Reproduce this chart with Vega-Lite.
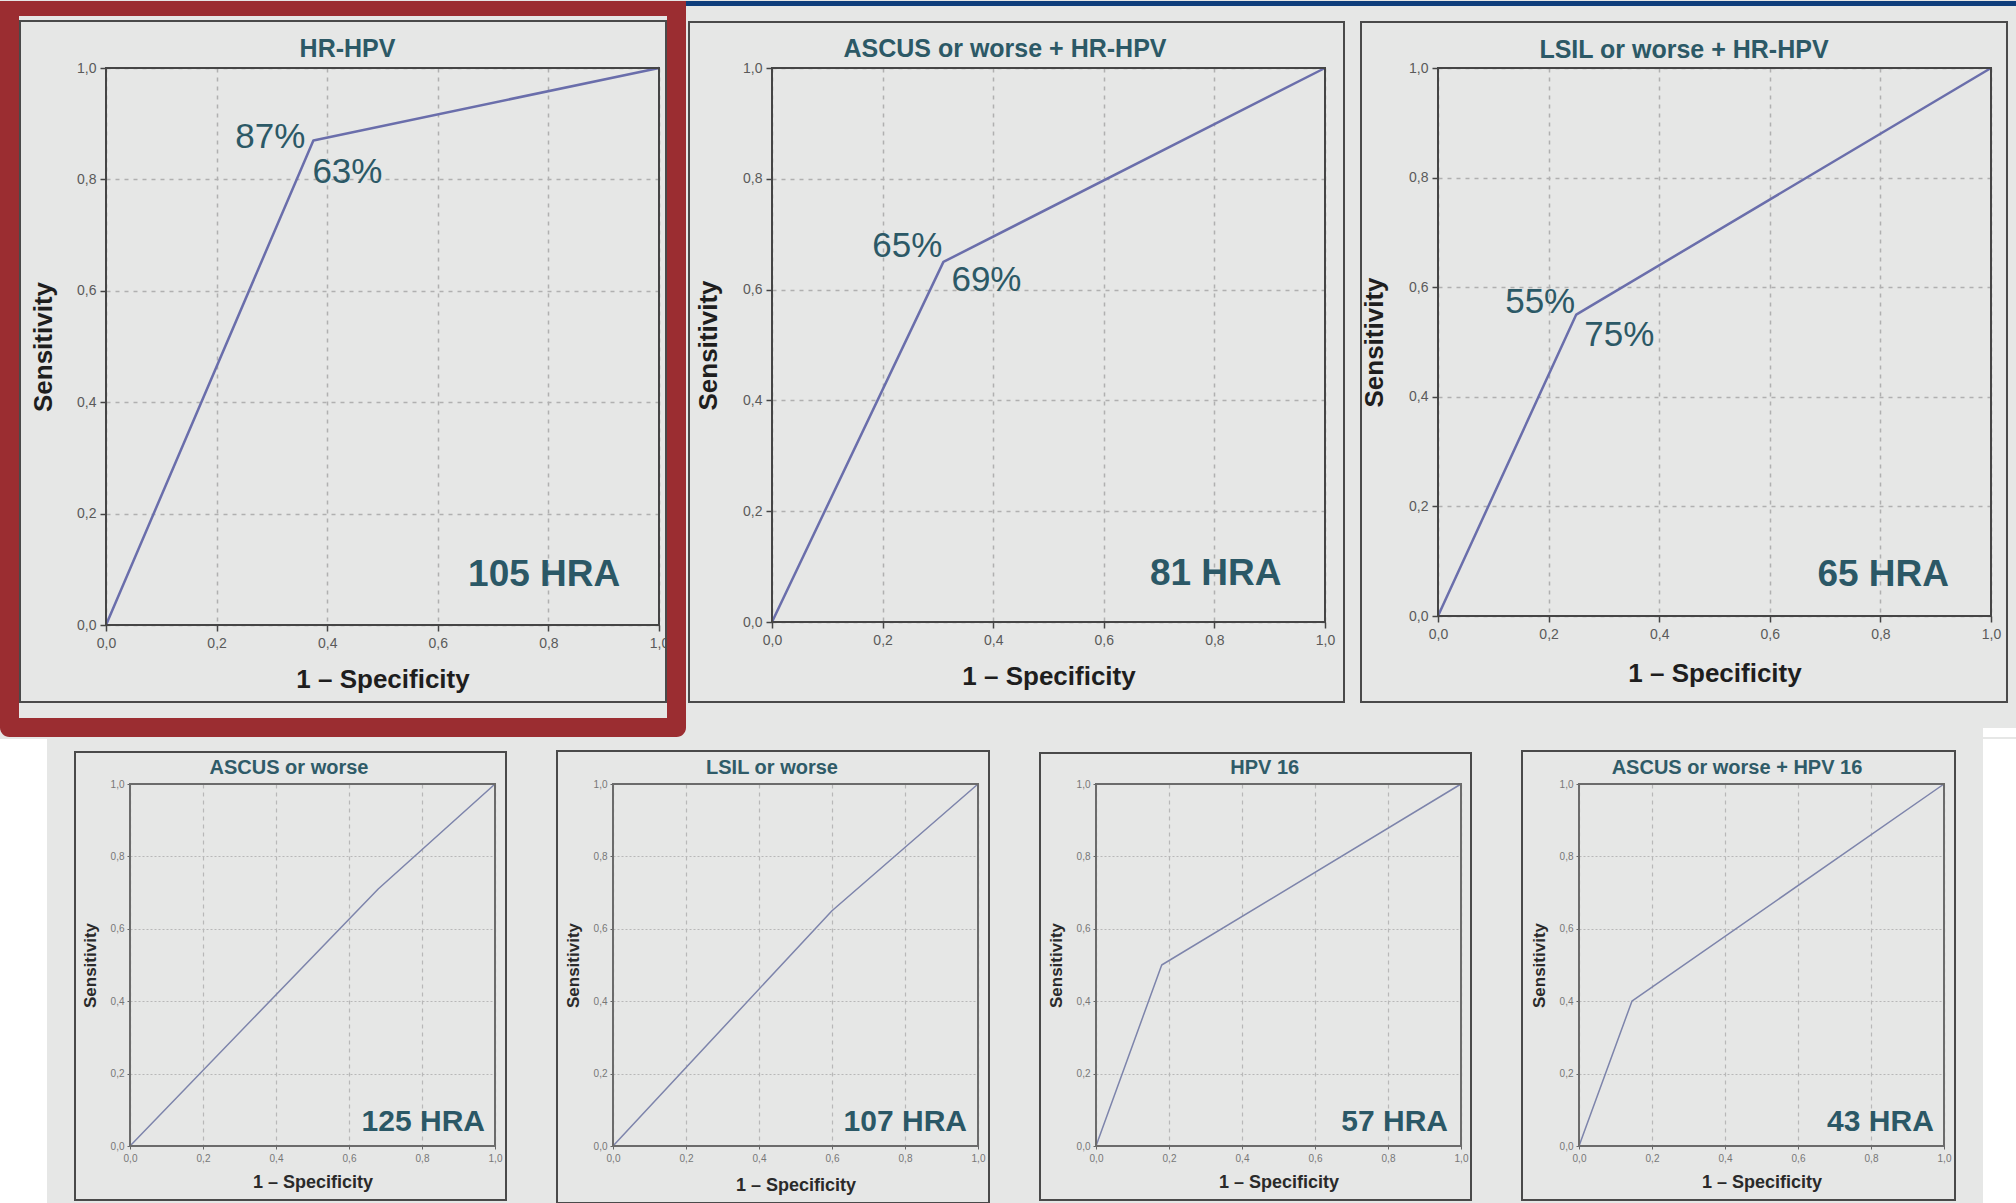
{
"$schema":"https://vega.github.io/schema/vega-lite/v6.json",
"background":"#e6e7e6",
"padding":0,
"autosize":{"type":"pad"},
"spacing":0,
"config":{"font":"Liberation Sans","text":{"font":"Liberation Sans"}},
"vconcat":[
{"hconcat":[
{"width":553,"height":557,"view":{"stroke":null},
"layer":[
{"data":{"values":[{}]},"mark":{"type":"rect","color":"#9b2d31"},"encoding":{"x":{"datum":-0.19168,"type":"quantitative","scale":{"domain":[0,1],"nice":false,"zero":false}},"x2":{"datum":1.04882},"y":{"datum":1.12029,"type":"quantitative","scale":{"domain":[0,1],"nice":false,"zero":false}},"y2":{"datum":1.09336}}},
{"data":{"values":[{}]},"mark":{"type":"rect","color":"#9b2d31"},"encoding":{"x":{"datum":-0.19168,"type":"quantitative","scale":{"domain":[0,1],"nice":false,"zero":false}},"x2":{"datum":-0.15732},"y":{"datum":1.12029,"type":"quantitative","scale":{"domain":[0,1],"nice":false,"zero":false}},"y2":{"datum":-0.18312}}},
{"data":{"values":[{}]},"mark":{"type":"rect","color":"#9b2d31"},"encoding":{"x":{"datum":1.01447,"type":"quantitative","scale":{"domain":[0,1],"nice":false,"zero":false}},"x2":{"datum":1.04882},"y":{"datum":1.12029,"type":"quantitative","scale":{"domain":[0,1],"nice":false,"zero":false}},"y2":{"datum":-0.18312}}},
{"data":{"values":[{}]},"mark":{"type":"rect","color":"#9b2d31","cornerRadiusBottomLeft":10,"cornerRadiusBottomRight":10},"encoding":{"x":{"datum":-0.19168,"type":"quantitative","scale":{"domain":[0,1],"nice":false,"zero":false}},"x2":{"datum":1.04882},"y":{"datum":-0.16697,"type":"quantitative","scale":{"domain":[0,1],"nice":false,"zero":false}},"y2":{"datum":-0.20108}}},
{"data":{"values":[{}]},"mark":{"type":"rect","filled":false,"stroke":"#4a4a4a","strokeWidth":2},"encoding":{"x":{"datum":-0.15552,"type":"quantitative","scale":{"domain":[0,1],"nice":false,"zero":false}},"x2":{"datum":1.01266},"y":{"datum":1.08438,"type":"quantitative","scale":{"domain":[0,1],"nice":false,"zero":false}},"y2":{"datum":-0.13824}}},
{"data":{"values":[{"fpr":0,"tpr":0},{"fpr":0.375,"tpr":0.87},{"fpr":1,"tpr":1}]},"mark":{"type":"line","color":"#6a6eab","strokeWidth":2.5,"strokeJoin":"round"},
"encoding":{"x":{"field":"fpr","type":"quantitative","scale":{"domain":[0,1],"nice":false,"zero":false},"axis":{"values":[0,0.2,0.4,0.6,0.8,1],"labelExpr":"replace(format(datum.value,'.1f'),'.',',')","title":"1 – Specificity","titleFontSize":26,"titleFontWeight":"bold","titleColor":"#1e1e1e","titleX":276.5,"titleY":62,"titleBaseline":"alphabetic","titleAlign":"center","titleAngle":0,"labelFontSize":14,"labelColor":"#5a5a5a","labelPadding":5,"labelFlush":false,"labelOverlap":false,"tickSize":6,"tickColor":"#454545","tickWidth":1.5,"domain":false,"grid":true,"gridColor":"#b0b0b0","gridDash":[4,5],"gridWidth":1.5}},
"y":{"field":"tpr","type":"quantitative","scale":{"domain":[0,1],"nice":false,"zero":false},"axis":{"values":[0,0.2,0.4,0.6,0.8,1],"labelExpr":"replace(format(datum.value,'.1f'),'.',',')","title":"Sensitivity","titleFontSize":26,"titleFontWeight":"bold","titleColor":"#1e1e1e","titleX":-55,"titleY":278.5,"titleBaseline":"alphabetic","titleAlign":"center","titleAngle":270,"labelFontSize":14,"labelColor":"#5a5a5a","labelPadding":4,"labelFlush":false,"labelOverlap":false,"tickSize":6,"tickColor":"#454545","tickWidth":1.5,"domain":false,"grid":true,"gridColor":"#b0b0b0","gridDash":[4,5],"gridWidth":1.5}}}},
{"data":{"values":[{}]},"mark":{"type":"rect","filled":false,"stroke":"#454545","strokeWidth":2},"encoding":{"x":{"datum":0,"type":"quantitative","scale":{"domain":[0,1],"nice":false,"zero":false}},"x2":{"datum":1},"y":{"datum":0,"type":"quantitative","scale":{"domain":[0,1],"nice":false,"zero":false}},"y2":{"datum":1}}},
{"data":{"values":[{"fpr":0.375,"tpr":0.87,"sens":"87%","spec":"63%"}]},"layer":[
{"mark":{"type":"text","align":"right","baseline":"alphabetic","dx":-8,"dy":8,"fontSize":35,"color":"#2c5966"},"encoding":{"x":{"field":"fpr","type":"quantitative","scale":{"domain":[0,1],"nice":false,"zero":false}},"y":{"field":"tpr","type":"quantitative","scale":{"domain":[0,1],"nice":false,"zero":false}},"text":{"field":"sens"}}},
{"mark":{"type":"text","align":"left","baseline":"alphabetic","dx":-1,"dy":43,"fontSize":35,"color":"#2c5966"},"encoding":{"x":{"field":"fpr","type":"quantitative","scale":{"domain":[0,1],"nice":false,"zero":false}},"y":{"field":"tpr","type":"quantitative","scale":{"domain":[0,1],"nice":false,"zero":false}},"text":{"field":"spec"}}}]},
{"data":{"values":[{"t":"HR-HPV"}]},"mark":{"type":"text","align":"center","baseline":"alphabetic","fontSize":25,"fontWeight":"bold","color":"#2c5966"},"encoding":{"x":{"datum":0.43671,"type":"quantitative","scale":{"domain":[0,1],"nice":false,"zero":false}},"y":{"datum":1.01975,"type":"quantitative","scale":{"domain":[0,1],"nice":false,"zero":false}},"text":{"field":"t"}}},
{"data":{"values":[{"n":"105 HRA"}]},"mark":{"type":"text","align":"right","baseline":"alphabetic","fontSize":37,"fontWeight":"bold","color":"#2b5866"},"encoding":{"x":{"datum":0.93,"type":"quantitative","scale":{"domain":[0,1],"nice":false,"zero":false}},"y":{"datum":0.07,"type":"quantitative","scale":{"domain":[0,1],"nice":false,"zero":false}},"text":{"field":"n"}}}
]},
{"width":553,"height":554,"view":{"stroke":null},
"layer":[
{"data":{"values":[{}]},"mark":{"type":"rect","filled":false,"stroke":"#4a4a4a","strokeWidth":2},"encoding":{"x":{"datum":-0.15009,"type":"quantitative","scale":{"domain":[0,1],"nice":false,"zero":false}},"x2":{"datum":1.03436},"y":{"datum":1.08303,"type":"quantitative","scale":{"domain":[0,1],"nice":false,"zero":false}},"y2":{"datum":-0.1444}}},
{"data":{"values":[{"fpr":0,"tpr":0},{"fpr":0.31,"tpr":0.65},{"fpr":1,"tpr":1}]},"mark":{"type":"line","color":"#6a6eab","strokeWidth":2.5,"strokeJoin":"round"},
"encoding":{"x":{"field":"fpr","type":"quantitative","scale":{"domain":[0,1],"nice":false,"zero":false},"axis":{"values":[0,0.2,0.4,0.6,0.8,1],"labelExpr":"replace(format(datum.value,'.1f'),'.',',')","title":"1 – Specificity","titleFontSize":26,"titleFontWeight":"bold","titleColor":"#1e1e1e","titleX":276.5,"titleY":62,"titleBaseline":"alphabetic","titleAlign":"center","titleAngle":0,"labelFontSize":14,"labelColor":"#5a5a5a","labelPadding":5,"labelFlush":false,"labelOverlap":false,"tickSize":6,"tickColor":"#454545","tickWidth":1.5,"domain":false,"grid":true,"gridColor":"#b0b0b0","gridDash":[4,5],"gridWidth":1.5}},
"y":{"field":"tpr","type":"quantitative","scale":{"domain":[0,1],"nice":false,"zero":false},"axis":{"values":[0,0.2,0.4,0.6,0.8,1],"labelExpr":"replace(format(datum.value,'.1f'),'.',',')","title":"Sensitivity","titleFontSize":26,"titleFontWeight":"bold","titleColor":"#1e1e1e","titleX":-56,"titleY":277,"titleBaseline":"alphabetic","titleAlign":"center","titleAngle":270,"labelFontSize":14,"labelColor":"#5a5a5a","labelPadding":4,"labelFlush":false,"labelOverlap":false,"tickSize":6,"tickColor":"#454545","tickWidth":1.5,"domain":false,"grid":true,"gridColor":"#b0b0b0","gridDash":[4,5],"gridWidth":1.5}}}},
{"data":{"values":[{}]},"mark":{"type":"rect","filled":false,"stroke":"#454545","strokeWidth":2},"encoding":{"x":{"datum":0,"type":"quantitative","scale":{"domain":[0,1],"nice":false,"zero":false}},"x2":{"datum":1},"y":{"datum":0,"type":"quantitative","scale":{"domain":[0,1],"nice":false,"zero":false}},"y2":{"datum":1}}},
{"data":{"values":[{"fpr":0.31,"tpr":0.65,"sens":"65%","spec":"69%"}]},"layer":[
{"mark":{"type":"text","align":"right","baseline":"alphabetic","dx":-1,"dy":-5,"fontSize":35,"color":"#2c5966"},"encoding":{"x":{"field":"fpr","type":"quantitative","scale":{"domain":[0,1],"nice":false,"zero":false}},"y":{"field":"tpr","type":"quantitative","scale":{"domain":[0,1],"nice":false,"zero":false}},"text":{"field":"sens"}}},
{"mark":{"type":"text","align":"left","baseline":"alphabetic","dx":8,"dy":29,"fontSize":35,"color":"#2c5966"},"encoding":{"x":{"field":"fpr","type":"quantitative","scale":{"domain":[0,1],"nice":false,"zero":false}},"y":{"field":"tpr","type":"quantitative","scale":{"domain":[0,1],"nice":false,"zero":false}},"text":{"field":"spec"}}}]},
{"data":{"values":[{"t":"ASCUS or worse + HR-HPV"}]},"mark":{"type":"text","align":"center","baseline":"alphabetic","fontSize":25,"fontWeight":"bold","color":"#2c5966"},"encoding":{"x":{"datum":0.42134,"type":"quantitative","scale":{"domain":[0,1],"nice":false,"zero":false}},"y":{"datum":1.01986,"type":"quantitative","scale":{"domain":[0,1],"nice":false,"zero":false}},"text":{"field":"t"}}},
{"data":{"values":[{"n":"81 HRA"}]},"mark":{"type":"text","align":"right","baseline":"alphabetic","fontSize":37,"fontWeight":"bold","color":"#2b5866"},"encoding":{"x":{"datum":0.92134,"type":"quantitative","scale":{"domain":[0,1],"nice":false,"zero":false}},"y":{"datum":0.066,"type":"quantitative","scale":{"domain":[0,1],"nice":false,"zero":false}},"text":{"field":"n"}}}
]},
{"width":553,"height":548,"view":{"stroke":null},
"layer":[
{"data":{"values":[{}]},"mark":{"type":"rect","color":"#0f3e7c"},"encoding":{"x":{"datum":-1.35986,"type":"quantitative","scale":{"domain":[0,1],"nice":false,"zero":false}},"x2":{"datum":1.04521},"y":{"datum":1.12226,"type":"quantitative","scale":{"domain":[0,1],"nice":false,"zero":false}},"y2":{"datum":1.11314}}},
{"data":{"values":[{}]},"mark":{"type":"rect","color":"#ffffff"},"encoding":{"x":{"datum":0.98553,"type":"quantitative","scale":{"domain":[0,1],"nice":false,"zero":false}},"x2":{"datum":1.04521},"y":{"datum":-0.20438,"type":"quantitative","scale":{"domain":[0,1],"nice":false,"zero":false}},"y2":{"datum":-0.2208}}},
{"data":{"values":[{}]},"mark":{"type":"rect","filled":false,"stroke":"#4a4a4a","strokeWidth":2},"encoding":{"x":{"datum":-0.13924,"type":"quantitative","scale":{"domain":[0,1],"nice":false,"zero":false}},"x2":{"datum":1.02893},"y":{"datum":1.08394,"type":"quantitative","scale":{"domain":[0,1],"nice":false,"zero":false}},"y2":{"datum":-0.15693}}},
{"data":{"values":[{"fpr":0,"tpr":0},{"fpr":0.25,"tpr":0.55},{"fpr":1,"tpr":1}]},"mark":{"type":"line","color":"#6a6eab","strokeWidth":2.5,"strokeJoin":"round"},
"encoding":{"x":{"field":"fpr","type":"quantitative","scale":{"domain":[0,1],"nice":false,"zero":false},"axis":{"values":[0,0.2,0.4,0.6,0.8,1],"labelExpr":"replace(format(datum.value,'.1f'),'.',',')","title":"1 – Specificity","titleFontSize":26,"titleFontWeight":"bold","titleColor":"#1e1e1e","titleX":276.5,"titleY":65,"titleBaseline":"alphabetic","titleAlign":"center","titleAngle":0,"labelFontSize":14,"labelColor":"#5a5a5a","labelPadding":5,"labelFlush":false,"labelOverlap":false,"tickSize":6,"tickColor":"#454545","tickWidth":1.5,"domain":false,"grid":true,"gridColor":"#b0b0b0","gridDash":[4,5],"gridWidth":1.5}},
"y":{"field":"tpr","type":"quantitative","scale":{"domain":[0,1],"nice":false,"zero":false},"axis":{"values":[0,0.2,0.4,0.6,0.8,1],"labelExpr":"replace(format(datum.value,'.1f'),'.',',')","title":"Sensitivity","titleFontSize":26,"titleFontWeight":"bold","titleColor":"#1e1e1e","titleX":-56,"titleY":274,"titleBaseline":"alphabetic","titleAlign":"center","titleAngle":270,"labelFontSize":14,"labelColor":"#5a5a5a","labelPadding":4,"labelFlush":false,"labelOverlap":false,"tickSize":6,"tickColor":"#454545","tickWidth":1.5,"domain":false,"grid":true,"gridColor":"#b0b0b0","gridDash":[4,5],"gridWidth":1.5}}}},
{"data":{"values":[{}]},"mark":{"type":"rect","filled":false,"stroke":"#454545","strokeWidth":2},"encoding":{"x":{"datum":0,"type":"quantitative","scale":{"domain":[0,1],"nice":false,"zero":false}},"x2":{"datum":1},"y":{"datum":0,"type":"quantitative","scale":{"domain":[0,1],"nice":false,"zero":false}},"y2":{"datum":1}}},
{"data":{"values":[{"fpr":0.25,"tpr":0.55,"sens":"55%","spec":"75%"}]},"layer":[
{"mark":{"type":"text","align":"right","baseline":"alphabetic","dx":-1,"dy":-2,"fontSize":35,"color":"#2c5966"},"encoding":{"x":{"field":"fpr","type":"quantitative","scale":{"domain":[0,1],"nice":false,"zero":false}},"y":{"field":"tpr","type":"quantitative","scale":{"domain":[0,1],"nice":false,"zero":false}},"text":{"field":"sens"}}},
{"mark":{"type":"text","align":"left","baseline":"alphabetic","dx":8,"dy":31,"fontSize":35,"color":"#2c5966"},"encoding":{"x":{"field":"fpr","type":"quantitative","scale":{"domain":[0,1],"nice":false,"zero":false}},"y":{"field":"tpr","type":"quantitative","scale":{"domain":[0,1],"nice":false,"zero":false}},"text":{"field":"spec"}}}]},
{"data":{"values":[{"t":"LSIL or worse + HR-HPV"}]},"mark":{"type":"text","align":"center","baseline":"alphabetic","fontSize":25,"fontWeight":"bold","color":"#2c5966"},"encoding":{"x":{"datum":0.44485,"type":"quantitative","scale":{"domain":[0,1],"nice":false,"zero":false}},"y":{"datum":1.01752,"type":"quantitative","scale":{"domain":[0,1],"nice":false,"zero":false}},"text":{"field":"t"}}},
{"data":{"values":[{"n":"65 HRA"}]},"mark":{"type":"text","align":"right","baseline":"alphabetic","fontSize":37,"fontWeight":"bold","color":"#2b5866"},"encoding":{"x":{"datum":0.92405,"type":"quantitative","scale":{"domain":[0,1],"nice":false,"zero":false}},"y":{"datum":0.0547,"type":"quantitative","scale":{"domain":[0,1],"nice":false,"zero":false}},"text":{"field":"n"}}}
]}
],"spacing":113,"bounds":"flush"},
{"hconcat":[
{"width":4,"height":362,"view":{"stroke":null},"data":{"values":[{}]},"mark":{"type":"rect","color":"#ffffff"},"encoding":{"x":{"datum":-26.5,"type":"quantitative","scale":{"domain":[0,1],"nice":false,"zero":false},"axis":null},"x2":{"datum":-14.75},"y":{"datum":1.12431,"type":"quantitative","scale":{"domain":[0,1],"nice":false,"zero":false},"axis":null},"y2":{"datum":-0.16575}}},
{"hconcat":[
{"width":365,"height":362,"view":{"stroke":null},
"layer":[
{"data":{"values":[{}]},"mark":{"type":"rect","filled":false,"stroke":"#4a4a4a","strokeWidth":2},"encoding":{"x":{"datum":-0.15068,"type":"quantitative","scale":{"domain":[0,1],"nice":false,"zero":false}},"x2":{"datum":1.03014},"y":{"datum":1.0884,"type":"quantitative","scale":{"domain":[0,1],"nice":false,"zero":false}},"y2":{"datum":-0.14917}}},
{"data":{"values":[{"fpr":0,"tpr":0},{"fpr":0.68,"tpr":0.71},{"fpr":1,"tpr":1}]},"mark":{"type":"line","color":"#7d84ab","strokeWidth":1.5,"strokeJoin":"round"},
"encoding":{"x":{"field":"fpr","type":"quantitative","scale":{"domain":[0,1],"nice":false,"zero":false},"axis":{"values":[0,0.2,0.4,0.6,0.8,1],"labelExpr":"replace(format(datum.value,'.1f'),'.',',')","title":"1 – Specificity","titleFontSize":18,"titleFontWeight":"bold","titleColor":"#2a2a2a","titleX":182.5,"titleY":41,"titleBaseline":"alphabetic","titleAlign":"center","titleAngle":0,"labelFontSize":10,"labelColor":"#777777","labelPadding":4,"labelFlush":false,"labelOverlap":false,"tickSize":3,"tickColor":"#666666","tickWidth":1,"domain":false,"grid":true,"gridColor":"#b8b8b8","gridDash":[4,4],"gridWidth":1.2}},
"y":{"field":"tpr","type":"quantitative","scale":{"domain":[0,1],"nice":false,"zero":false},"axis":{"values":[0,0.2,0.4,0.6,0.8,1],"labelExpr":"replace(format(datum.value,'.1f'),'.',',')","title":"Sensitivity","titleFontSize":17,"titleFontWeight":"bold","titleColor":"#2a2a2a","titleX":-35,"titleY":181,"titleBaseline":"alphabetic","titleAlign":"center","titleAngle":270,"labelFontSize":10,"labelColor":"#777777","labelPadding":3,"labelFlush":false,"labelOverlap":false,"tickSize":3,"tickColor":"#666666","tickWidth":1,"domain":false,"grid":true,"gridColor":"#b8b8b8","gridDash":[2,2],"gridWidth":1.2}}}},
{"data":{"values":[{}]},"mark":{"type":"rect","filled":false,"stroke":"#6b6b6b","strokeWidth":2},"encoding":{"x":{"datum":0,"type":"quantitative","scale":{"domain":[0,1],"nice":false,"zero":false}},"x2":{"datum":1},"y":{"datum":0,"type":"quantitative","scale":{"domain":[0,1],"nice":false,"zero":false}},"y2":{"datum":1}}},
{"data":{"values":[{"t":"ASCUS or worse"}]},"mark":{"type":"text","align":"center","baseline":"alphabetic","fontSize":20,"fontWeight":"bold","color":"#2f5b68"},"encoding":{"x":{"datum":0.43562,"type":"quantitative","scale":{"domain":[0,1],"nice":false,"zero":false}},"y":{"datum":1.0276,"type":"quantitative","scale":{"domain":[0,1],"nice":false,"zero":false}},"text":{"field":"t"}}},
{"data":{"values":[{"n":"125 HRA"}]},"mark":{"type":"text","align":"right","baseline":"alphabetic","fontSize":30,"fontWeight":"bold","color":"#2b5866"},"encoding":{"x":{"datum":0.9726,"type":"quantitative","scale":{"domain":[0,1],"nice":false,"zero":false}},"y":{"datum":0.0414,"type":"quantitative","scale":{"domain":[0,1],"nice":false,"zero":false}},"text":{"field":"n"}}}
]},
{"width":365,"height":362,"view":{"stroke":null},
"layer":[
{"data":{"values":[{}]},"mark":{"type":"rect","filled":false,"stroke":"#4a4a4a","strokeWidth":2},"encoding":{"x":{"datum":-0.15342,"type":"quantitative","scale":{"domain":[0,1],"nice":false,"zero":false}},"x2":{"datum":1.03014},"y":{"datum":1.09116,"type":"quantitative","scale":{"domain":[0,1],"nice":false,"zero":false}},"y2":{"datum":-0.15746}}},
{"data":{"values":[{"fpr":0,"tpr":0},{"fpr":0.6,"tpr":0.65},{"fpr":1,"tpr":1}]},"mark":{"type":"line","color":"#7d84ab","strokeWidth":1.5,"strokeJoin":"round"},
"encoding":{"x":{"field":"fpr","type":"quantitative","scale":{"domain":[0,1],"nice":false,"zero":false},"axis":{"values":[0,0.2,0.4,0.6,0.8,1],"labelExpr":"replace(format(datum.value,'.1f'),'.',',')","title":"1 – Specificity","titleFontSize":18,"titleFontWeight":"bold","titleColor":"#2a2a2a","titleX":182.5,"titleY":44,"titleBaseline":"alphabetic","titleAlign":"center","titleAngle":0,"labelFontSize":10,"labelColor":"#777777","labelPadding":4,"labelFlush":false,"labelOverlap":false,"tickSize":3,"tickColor":"#666666","tickWidth":1,"domain":false,"grid":true,"gridColor":"#b8b8b8","gridDash":[4,4],"gridWidth":1.2}},
"y":{"field":"tpr","type":"quantitative","scale":{"domain":[0,1],"nice":false,"zero":false},"axis":{"values":[0,0.2,0.4,0.6,0.8,1],"labelExpr":"replace(format(datum.value,'.1f'),'.',',')","title":"Sensitivity","titleFontSize":17,"titleFontWeight":"bold","titleColor":"#2a2a2a","titleX":-35,"titleY":181,"titleBaseline":"alphabetic","titleAlign":"center","titleAngle":270,"labelFontSize":10,"labelColor":"#777777","labelPadding":3,"labelFlush":false,"labelOverlap":false,"tickSize":3,"tickColor":"#666666","tickWidth":1,"domain":false,"grid":true,"gridColor":"#b8b8b8","gridDash":[2,2],"gridWidth":1.2}}}},
{"data":{"values":[{}]},"mark":{"type":"rect","filled":false,"stroke":"#6b6b6b","strokeWidth":2},"encoding":{"x":{"datum":0,"type":"quantitative","scale":{"domain":[0,1],"nice":false,"zero":false}},"x2":{"datum":1},"y":{"datum":0,"type":"quantitative","scale":{"domain":[0,1],"nice":false,"zero":false}},"y2":{"datum":1}}},
{"data":{"values":[{"t":"LSIL or worse"}]},"mark":{"type":"text","align":"center","baseline":"alphabetic","fontSize":20,"fontWeight":"bold","color":"#2f5b68"},"encoding":{"x":{"datum":0.43562,"type":"quantitative","scale":{"domain":[0,1],"nice":false,"zero":false}},"y":{"datum":1.0276,"type":"quantitative","scale":{"domain":[0,1],"nice":false,"zero":false}},"text":{"field":"t"}}},
{"data":{"values":[{"n":"107 HRA"}]},"mark":{"type":"text","align":"right","baseline":"alphabetic","fontSize":30,"fontWeight":"bold","color":"#2b5866"},"encoding":{"x":{"datum":0.96986,"type":"quantitative","scale":{"domain":[0,1],"nice":false,"zero":false}},"y":{"datum":0.0414,"type":"quantitative","scale":{"domain":[0,1],"nice":false,"zero":false}},"text":{"field":"n"}}}
]},
{"width":365,"height":362,"view":{"stroke":null},
"layer":[
{"data":{"values":[{}]},"mark":{"type":"rect","filled":false,"stroke":"#4a4a4a","strokeWidth":2},"encoding":{"x":{"datum":-0.15342,"type":"quantitative","scale":{"domain":[0,1],"nice":false,"zero":false}},"x2":{"datum":1.0274},"y":{"datum":1.08564,"type":"quantitative","scale":{"domain":[0,1],"nice":false,"zero":false}},"y2":{"datum":-0.14917}}},
{"data":{"values":[{"fpr":0,"tpr":0},{"fpr":0.18,"tpr":0.5},{"fpr":1,"tpr":1}]},"mark":{"type":"line","color":"#7d84ab","strokeWidth":1.5,"strokeJoin":"round"},
"encoding":{"x":{"field":"fpr","type":"quantitative","scale":{"domain":[0,1],"nice":false,"zero":false},"axis":{"values":[0,0.2,0.4,0.6,0.8,1],"labelExpr":"replace(format(datum.value,'.1f'),'.',',')","title":"1 – Specificity","titleFontSize":18,"titleFontWeight":"bold","titleColor":"#2a2a2a","titleX":182.5,"titleY":41,"titleBaseline":"alphabetic","titleAlign":"center","titleAngle":0,"labelFontSize":10,"labelColor":"#777777","labelPadding":4,"labelFlush":false,"labelOverlap":false,"tickSize":3,"tickColor":"#666666","tickWidth":1,"domain":false,"grid":true,"gridColor":"#b8b8b8","gridDash":[4,4],"gridWidth":1.2}},
"y":{"field":"tpr","type":"quantitative","scale":{"domain":[0,1],"nice":false,"zero":false},"axis":{"values":[0,0.2,0.4,0.6,0.8,1],"labelExpr":"replace(format(datum.value,'.1f'),'.',',')","title":"Sensitivity","titleFontSize":17,"titleFontWeight":"bold","titleColor":"#2a2a2a","titleX":-35,"titleY":181,"titleBaseline":"alphabetic","titleAlign":"center","titleAngle":270,"labelFontSize":10,"labelColor":"#777777","labelPadding":3,"labelFlush":false,"labelOverlap":false,"tickSize":3,"tickColor":"#666666","tickWidth":1,"domain":false,"grid":true,"gridColor":"#b8b8b8","gridDash":[2,2],"gridWidth":1.2}}}},
{"data":{"values":[{}]},"mark":{"type":"rect","filled":false,"stroke":"#6b6b6b","strokeWidth":2},"encoding":{"x":{"datum":0,"type":"quantitative","scale":{"domain":[0,1],"nice":false,"zero":false}},"x2":{"datum":1},"y":{"datum":0,"type":"quantitative","scale":{"domain":[0,1],"nice":false,"zero":false}},"y2":{"datum":1}}},
{"data":{"values":[{"t":"HPV 16"}]},"mark":{"type":"text","align":"center","baseline":"alphabetic","fontSize":20,"fontWeight":"bold","color":"#2f5b68"},"encoding":{"x":{"datum":0.46219,"type":"quantitative","scale":{"domain":[0,1],"nice":false,"zero":false}},"y":{"datum":1.0276,"type":"quantitative","scale":{"domain":[0,1],"nice":false,"zero":false}},"text":{"field":"t"}}},
{"data":{"values":[{"n":"57 HRA"}]},"mark":{"type":"text","align":"right","baseline":"alphabetic","fontSize":30,"fontWeight":"bold","color":"#2b5866"},"encoding":{"x":{"datum":0.96438,"type":"quantitative","scale":{"domain":[0,1],"nice":false,"zero":false}},"y":{"datum":0.0414,"type":"quantitative","scale":{"domain":[0,1],"nice":false,"zero":false}},"text":{"field":"n"}}}
]},
{"width":365,"height":362,"view":{"stroke":null},
"layer":[
{"data":{"values":[{}]},"mark":{"type":"rect","color":"#ffffff"},"encoding":{"x":{"datum":1.10685,"type":"quantitative","scale":{"domain":[0,1],"nice":false,"zero":false}},"x2":{"datum":1.19726},"y":{"datum":1.12431,"type":"quantitative","scale":{"domain":[0,1],"nice":false,"zero":false}},"y2":{"datum":-0.16575}}},
{"data":{"values":[{}]},"mark":{"type":"rect","filled":false,"stroke":"#4a4a4a","strokeWidth":2},"encoding":{"x":{"datum":-0.15616,"type":"quantitative","scale":{"domain":[0,1],"nice":false,"zero":false}},"x2":{"datum":1.03014},"y":{"datum":1.09116,"type":"quantitative","scale":{"domain":[0,1],"nice":false,"zero":false}},"y2":{"datum":-0.14917}}},
{"data":{"values":[{"fpr":0,"tpr":0},{"fpr":0.145,"tpr":0.4},{"fpr":1,"tpr":1}]},"mark":{"type":"line","color":"#7d84ab","strokeWidth":1.5,"strokeJoin":"round"},
"encoding":{"x":{"field":"fpr","type":"quantitative","scale":{"domain":[0,1],"nice":false,"zero":false},"axis":{"values":[0,0.2,0.4,0.6,0.8,1],"labelExpr":"replace(format(datum.value,'.1f'),'.',',')","title":"1 – Specificity","titleFontSize":18,"titleFontWeight":"bold","titleColor":"#2a2a2a","titleX":182.5,"titleY":41,"titleBaseline":"alphabetic","titleAlign":"center","titleAngle":0,"labelFontSize":10,"labelColor":"#777777","labelPadding":4,"labelFlush":false,"labelOverlap":false,"tickSize":3,"tickColor":"#666666","tickWidth":1,"domain":false,"grid":true,"gridColor":"#b8b8b8","gridDash":[4,4],"gridWidth":1.2}},
"y":{"field":"tpr","type":"quantitative","scale":{"domain":[0,1],"nice":false,"zero":false},"axis":{"values":[0,0.2,0.4,0.6,0.8,1],"labelExpr":"replace(format(datum.value,'.1f'),'.',',')","title":"Sensitivity","titleFontSize":17,"titleFontWeight":"bold","titleColor":"#2a2a2a","titleX":-35,"titleY":181,"titleBaseline":"alphabetic","titleAlign":"center","titleAngle":270,"labelFontSize":10,"labelColor":"#777777","labelPadding":3,"labelFlush":false,"labelOverlap":false,"tickSize":3,"tickColor":"#666666","tickWidth":1,"domain":false,"grid":true,"gridColor":"#b8b8b8","gridDash":[2,2],"gridWidth":1.2}}}},
{"data":{"values":[{}]},"mark":{"type":"rect","filled":false,"stroke":"#6b6b6b","strokeWidth":2},"encoding":{"x":{"datum":0,"type":"quantitative","scale":{"domain":[0,1],"nice":false,"zero":false}},"x2":{"datum":1},"y":{"datum":0,"type":"quantitative","scale":{"domain":[0,1],"nice":false,"zero":false}},"y2":{"datum":1}}},
{"data":{"values":[{"t":"ASCUS or worse + HPV 16"}]},"mark":{"type":"text","align":"center","baseline":"alphabetic","fontSize":20,"fontWeight":"bold","color":"#2f5b68"},"encoding":{"x":{"datum":0.43288,"type":"quantitative","scale":{"domain":[0,1],"nice":false,"zero":false}},"y":{"datum":1.0276,"type":"quantitative","scale":{"domain":[0,1],"nice":false,"zero":false}},"text":{"field":"t"}}},
{"data":{"values":[{"n":"43 HRA"}]},"mark":{"type":"text","align":"right","baseline":"alphabetic","fontSize":30,"fontWeight":"bold","color":"#2b5866"},"encoding":{"x":{"datum":0.97205,"type":"quantitative","scale":{"domain":[0,1],"nice":false,"zero":false}},"y":{"datum":0.0414,"type":"quantitative","scale":{"domain":[0,1],"nice":false,"zero":false}},"text":{"field":"n"}}}
]}
],"spacing":118,"bounds":"flush"}
],"spacing":20,"bounds":"flush"}
]
}
